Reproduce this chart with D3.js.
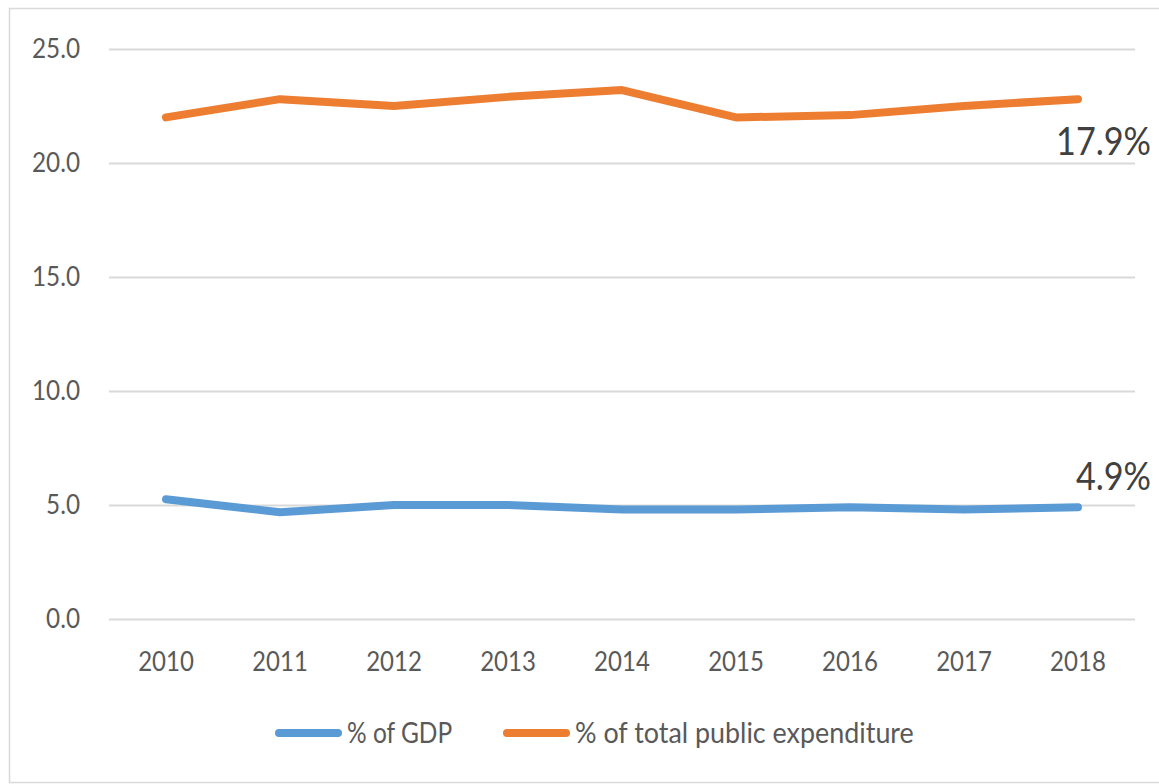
<!DOCTYPE html>
<html><head><meta charset="utf-8">
<script src="https://cdn.jsdelivr.net/npm/d3@7"></script>
<style>body{margin:0;background:#fff}svg{display:block}</style>
</head><body>
<svg id="c" width="1159" height="784"></svg>
<script>
const years = ["2010","2011","2012","2013","2014","2015","2016","2017","2018"];
const gdpShare = [5.25, 4.68, 5.0, 5.0, 4.8, 4.8, 4.9, 4.8, 4.9];
const expenditureShare = [22.0, 22.8, 22.5, 22.9, 23.2, 22.0, 22.1, 22.5, 22.8];
const yTicks = [0, 5, 10, 15, 20, 25];
const seriesNames = ["% of GDP", "% of total public expenditure"];
const endLabels = ["4.9%", "17.9%"];
const colors = ["#5B9BD5", "#ED7D31"];

const svg = d3.select("#c");
const font = "Lato, 'Open Sans', sans-serif";
function condense(sel, f){
  sel.each(function(){
    const w = this.getComputedTextLength();
    d3.select(this).attr("textLength", w*f).attr("lengthAdjust","spacingAndGlyphs");
  });
}
svg.append("rect").attr("x",9.5).attr("y",8.5).attr("width",1160).attr("height",774)
  .attr("fill","#fff").attr("stroke","#d9d9d9").attr("stroke-width",1.5);

const x = d3.scaleBand().domain(years).range([109,1135]);
const y = d3.scaleLinear().domain([0,25]).range([619,49]);

const g = svg.append("g");
const yAxis = g.append("g").attr("transform","translate(109,0)")
  .call(d3.axisLeft(y).tickValues(yTicks).tickFormat(d3.format(".1f")).tickSize(-1026).tickPadding(29));
yAxis.select(".domain").remove();
yAxis.selectAll("line").attr("stroke","#d9d9d9").attr("stroke-width",2);
yAxis.selectAll("text").attr("fill","#595959").style("font-family",font).style("font-size","27px").attr("dy","0.3em");
condense(yAxis.selectAll("text"), 0.9);

const xAxis = g.append("g").attr("transform","translate(0,619)")
  .call(d3.axisBottom(x).tickSize(0).tickPadding(33));
xAxis.select(".domain").remove();
xAxis.selectAll("text").attr("fill","#595959").style("font-family",font).style("font-size","27px");
condense(xAxis.selectAll("text"), 0.89);

const line = d3.line().x((d,i)=>x(years[i])+x.bandwidth()/2).y(d=>y(d));
[gdpShare, expenditureShare].forEach((s,k)=>{
  g.append("path").datum(s).attr("d",line).attr("fill","none")
   .attr("stroke",colors[k]).attr("stroke-width",8).attr("stroke-linecap","round").attr("stroke-linejoin","round");
});

// end labels (condensed via transform so the bounding box stays inside)
const labelY = [y(gdpShare[8]) - 17, y(expenditureShare[8]) + 56];
endLabels.forEach((t,k)=>{
  g.append("text").attr("transform",`translate(1151,${labelY[k]}) scale(0.9,1)`)
    .attr("text-anchor","end").attr("fill","#404040")
    .style("font-family",font).style("font-size","38px").text(t);
});

// legend
const legX = [275, 503];
const legF = [0.875, 0.96];
seriesNames.forEach((n,k)=>{
  const lg = g.append("g").attr("transform",`translate(${legX[k]},733)`);
  lg.append("line").attr("x1",4).attr("x2",63).attr("y1",0).attr("y2",0)
    .attr("stroke",colors[k]).attr("stroke-width",8).attr("stroke-linecap","round");
  const t = lg.append("text").attr("x",72).attr("y",10).attr("fill","#595959")
    .style("font-family",font).style("font-size","28px").text(n);
  condense(t, legF[k]);
});
</script>
</body></html>
